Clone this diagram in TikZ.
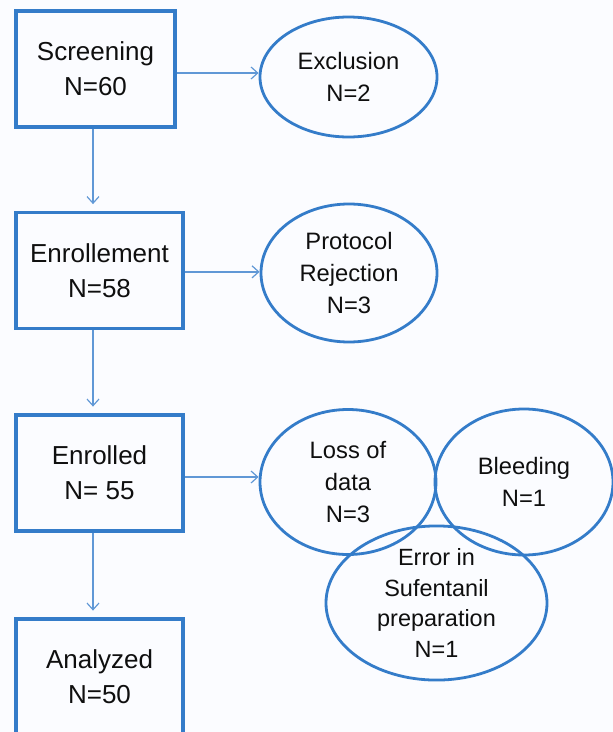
\documentclass[tikz,border=0pt]{standalone}
\usepackage{fontspec}
\setmainfont{Liberation Sans}
\usetikzlibrary{shapes.geometric,arrows.meta}
\definecolor{bgc}{RGB}{251,252,255}
\definecolor{boxblue}{RGB}{52,124,201}
\definecolor{arrblue}{RGB}{96,152,214}
\definecolor{txt}{RGB}{15,15,15}
\tikzset{
  stage/.style={draw=boxblue, line width=2.6pt, rectangle, inner sep=0pt, align=center, text=txt,
    minimum width=125.25pt, minimum height=87pt, font=\fontsize{19.5pt}{26.25pt}\selectfont},
  outcome/.style={draw=boxblue, line width=2.1pt, ellipse, inner sep=0pt, align=center, text=txt,
    font=\fontsize{17.8pt}{24pt}\selectfont},
  flow/.style={draw=arrblue, line width=1.1pt, -{Straight Barb[length=5pt,width=9pt,line width=0.9pt]}},
}
\begin{document}
\begin{tikzpicture}[x=0.75pt,y=-0.75pt]
\path[use as bounding box, clip] (0,0) rectangle (613,732);
\fill[bgc] (0,0) rectangle (613,732);

% stages
\node[stage, minimum width=119.25pt] (scr) at (95.5,69) {Screening\\N=60};
\node[stage] (enr) at (99.5,270.5) {Enrollement\\N=58};
\node[stage] (enrd) at (99.5,473) {Enrolled\\N= 55};
\node[stage] (ana) at (99.5,677) {Analyzed\\N=50};

% outcomes
\node[outcome, minimum width=132.75pt, minimum height=90pt] (exc) at (348.5,77) {Exclusion\\N=2};
\node[outcome, minimum width=132pt, minimum height=103.5pt] (pro) at (349,273) {Protocol\\Rejection\\N=3};
\node[outcome, minimum width=132pt, minimum height=108.75pt] (loss) at (348,482) {Loss of\\data\\N=3};
\node[outcome, minimum width=133.5pt, minimum height=109.5pt] (ble) at (524,482) {Bleeding\\N=1};
\node[outcome, minimum width=165.75pt, minimum height=102pt, font=\fontsize{17.6pt}{23pt}\selectfont] (err) at (436.5,603) {Error in\\Sufentanil\\preparation\\N=1};

% connectors
\coordinate (col) at (93,0);
\draw[flow, shorten >=5pt] (scr.south -| col) -- (enr.north -| col);
\draw[flow, shorten >=5pt] (enr.south -| col) -- (enrd.north -| col);
\draw[flow, shorten >=5pt] (enrd.south -| col) -- (ana.north -| col);

\coordinate (s1) at ([yshift=-3pt]scr.east);
\draw[flow] (s1) -- (s1 -| exc.west);
\coordinate (s2) at ([yshift=-1pt]enr.east);
\draw[flow] (s2) -- (s2 -| pro.west);
\coordinate (s3) at ([yshift=-3pt]enrd.east);
\draw[flow] (s3) -- (s3 -| loss.west);
\end{tikzpicture}
\end{document}
